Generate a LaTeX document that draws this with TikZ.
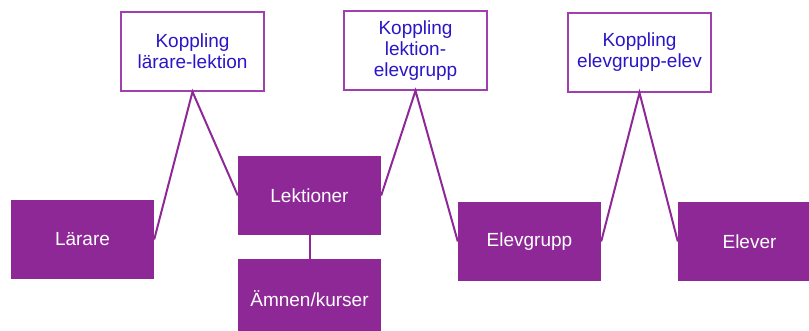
\documentclass[tikz,border=0pt]{standalone}
\usepackage{fontspec}
\setmainfont{Liberation Sans}
\usepackage{tikz}

\definecolor{lila}{HTML}{8F2897}
\definecolor{lilaram}{HTML}{A040AC}
\definecolor{blatext}{HTML}{2A16C8}

\tikzset{
	tabell/.style = {fill = lila, text = white, minimum width = 143, minimum height = 79, inner sep = 0, font = \fontsize{19}{21}\selectfont},
	koppling/.style = {draw = lilaram, line width = 1.5, fill = white, text = blatext, align = center, minimum width = 143, minimum height = 79, inner sep = 0, font = \fontsize{19}{21}\selectfont},
	rel/.style = {draw = lila, line width = 2}
}

\begin{document}
\begin{tikzpicture}[x = 1pt, y = -1pt]
			\useasboundingbox (0,0) rectangle (809,331);
			\clip (0,0) rectangle (809,331);
			
			\node[tabell] (larare) at (82.5,239.5) {Lärare}; % tabeller
			\node[tabell] (lektioner) at (309.5,195.5) {Lektioner};
			\node[tabell] (amnen) at (309.5,298.5) {Ämnen/kurser};
			\node[tabell] (elevgrupp) at (529.5,241.5) {Elevgrupp};
			\node[tabell] (elever) at (749.5,241.5) {Elever};
			
			\node[koppling] (k1) at (192.5,51.5) {Koppling\\lärare-lektion}; % kopplingstabeller
			\node[koppling] (k2) at (415.5,50.5) {Koppling\\lektion-\\elevgrupp};
			\node[koppling] (k3) at (639.5,52.5) {Koppling\\elevgrupp-elev};
			
			\draw[rel] (larare.east) -- (k1.south) -- (lektioner.west);
			\draw[rel] (lektioner.east) -- (k2.south) -- (elevgrupp.west);
			\draw[rel] (elevgrupp.east) -- (k3.south) -- (elever.west);
			\draw[rel] (lektioner.south) -- (amnen.north);
		\end{tikzpicture}
\end{document}
